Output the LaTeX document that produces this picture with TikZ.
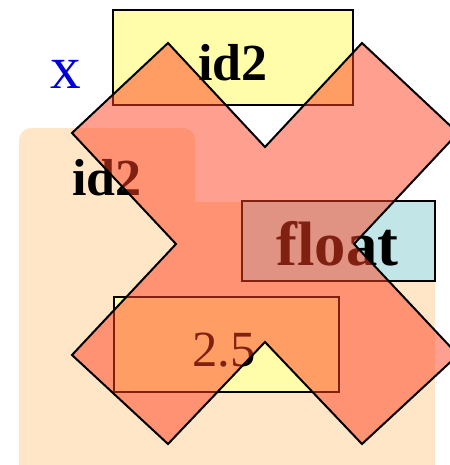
\documentclass[tikz,border=0pt]{standalone}
\usepackage{fontspec}
\setmainfont{Liberation Serif}
\definecolor{bisq}{HTML}{FEE6C6}
\definecolor{yel}{HTML}{FFFCAA}
\definecolor{blu}{HTML}{C2E5E8}
\definecolor{crossred}{HTML}{FF4020}
\definecolor{xblue}{HTML}{0000DD}
\begin{document}
\begin{tikzpicture}[x=0.75pt,y=-0.75pt,
  box/.style={draw=black, line width=1.3pt, inner sep=0pt, outer sep=0pt},
  lbl/.style={anchor=base, inner sep=0pt, outer sep=0pt},
  bigcross/.style={fill=crossred, fill opacity=0.5, draw=black, line width=1.5pt, line join=miter}]
\useasboundingbox (0,0) rectangle (450,465);
\clip (0,0) rectangle (450,465);
% background
\fill[bisq, rounded corners=9pt] (19,128) rectangle (195,240);
\fill[bisq] (19,202) rectangle (435,480);
% boxes
\node[box, fill=yel, minimum width=180pt, minimum height=71.25pt] (r1) at (233,57.5) {};
\node[box, fill=blu, minimum width=144.75pt, minimum height=60pt] (r2) at (338.5,241) {};
\node[box, fill=yel, minimum width=168.75pt, minimum height=71.25pt] (r3) at (226.5,344.5) {};
% labels
\node[lbl, text=xblue, font=\fontsize{46}{46}\selectfont] (tx) at (65.5,88) {x};
\node[lbl, font=\bfseries\fontsize{39}{39}\selectfont] (t1) at (233,80) {id2};
\node[lbl, font=\bfseries\fontsize{39}{39}\selectfont] (t2) at (107,195) {id2};
\node[lbl, font=\bfseries\fontsize{47}{47}\selectfont] (t3) at (337.5,265) {float};
\node[lbl, font=\fontsize{38}{38}\selectfont] (t4) at (224,366) {2.5};
% cross
\draw[bigcross] (168,43) -- (265,147) -- (362,43) -- (458,133) -- (354,244) -- (458,355)
  -- (362,444) -- (265,342) -- (168,444) -- (72,355) -- (176,244) -- (72,133) -- cycle;
\end{tikzpicture}
\end{document}
